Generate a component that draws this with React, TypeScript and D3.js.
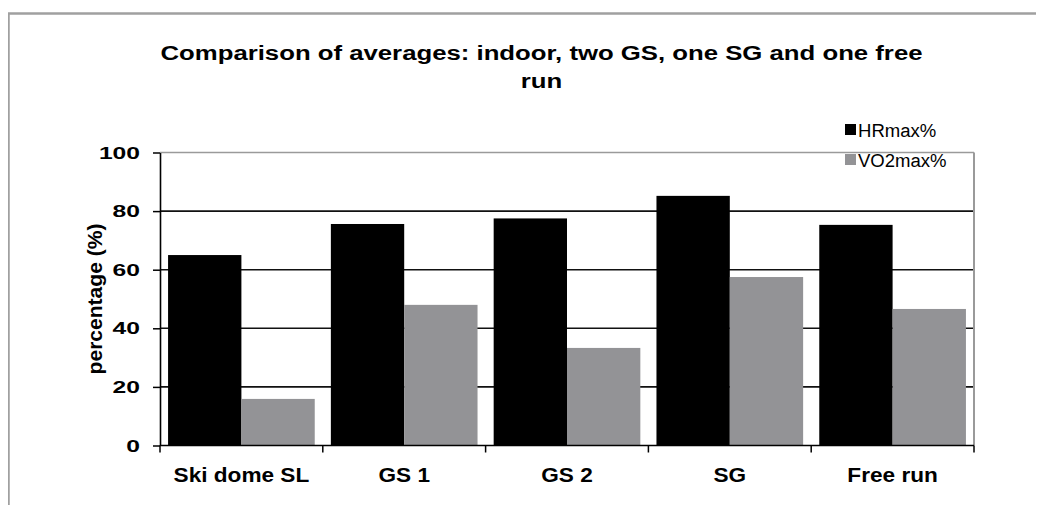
import * as d3 from 'd3'
import { useEffect, useRef } from 'react'

const categories = ['Ski dome SL', 'GS 1', 'GS 2', 'SG', 'Free run']
const seriesNames = ['HRmax%', 'VO2max%']
const hrMax = [65, 75.6, 77.5, 85.2, 75.3]
const vo2Max = [15.9, 48, 33.3, 57.5, 46.6]
const yTicks = [0, 20, 40, 60, 80, 100]
const colors = ['#000000', '#939396']

const App = () => {
  const svgRef = useRef<SVGSVGElement>(null)

  useEffect(() => {
    const w = 1044
    const h = 509
    const svg = d3.select(svgRef.current).attr('width', w).attr('height', h)
    svg.selectAll('*').remove()
    const font = 'Arial, "Liberation Sans", sans-serif'

    // outer chart border
    svg.append('rect').attr('x', 8.5).attr('y', 13.5).attr('width', 1040).attr('height', 520)
      .attr('fill', 'none').attr('stroke', '#a0a0a0').attr('stroke-width', 2.5)

    const left = 160, right = 974, top = 152.5, bottom = 445.5
    const x = d3.scaleBand().domain(categories).range([left, right]).paddingInner(0).paddingOuter(0)
    const inner = d3.scaleBand().domain(seriesNames).range([0, x.bandwidth()]).paddingInner(0).paddingOuter(0.11)
    const y = d3.scaleLinear().domain([0, 100]).range([bottom, top])

    // gridlines
    svg.selectAll('.grid').data(yTicks.filter(t => t > 0)).join('line')
      .attr('x1', left).attr('x2', right).attr('y1', d => y(d)).attr('y2', d => y(d))
      .attr('stroke', d => d === 100 ? '#9a9a9a' : '#111').attr('stroke-width', 1.6)

    // right border of plot
    svg.append('line').attr('x1', right).attr('x2', right).attr('y1', top).attr('y2', bottom)
      .attr('stroke', '#9a9a9a').attr('stroke-width', 2)

    const rows = categories.map((c, i) => ({ c, vals: [hrMax[i], vo2Max[i]] }))
    const g = svg.selectAll('.cat').data(rows).join('g').attr('transform', d => `translate(${x(d.c)},0)`)
    g.selectAll('rect').data(d => d.vals.map((v, k) => ({ v, s: seriesNames[k], k }))).join('rect')
      .attr('x', d => inner(d.s)!).attr('width', inner.bandwidth())
      .attr('y', d => y(d.v)).attr('height', d => y(0) - y(d.v))
      .attr('fill', d => colors[d.k])

    // y axis
    const yAxis = svg.append('g').attr('transform', `translate(${left},0)`)
      .call(d3.axisLeft(y).tickValues(yTicks).tickSize(7).tickSizeOuter(0).tickFormat(() => ''))
    yAxis.select('.domain').attr('stroke', '#000').attr('stroke-width', 1.6)
    yAxis.selectAll('.tick line').attr('stroke', '#000').attr('stroke-width', 1.5)
    svg.selectAll('.ylab').data(yTicks).join('text')
      .attr('transform', d => `translate(140,${y(d)}) scale(1.45,1)`)
      .attr('text-anchor', 'end').attr('dy', '0.36em')
      .attr('font-family', font).attr('font-size', 17).attr('font-weight', 'bold')
      .text(d => d)

    // x axis
    svg.append('line').attr('x1', left).attr('x2', right).attr('y1', bottom).attr('y2', bottom)
      .attr('stroke', '#000').attr('stroke-width', 1.6)
    const bounds = categories.map(c => x(c)!).concat([right])
    svg.selectAll('.xtick').data(bounds).join('line')
      .attr('x1', d => d).attr('x2', d => d).attr('y1', bottom).attr('y2', bottom + 7)
      .attr('stroke', '#000').attr('stroke-width', 1.5)
    svg.selectAll('.xlab').data(categories).join('text')
      .attr('transform', d => `translate(${x(d)! + x.bandwidth() / 2},482) scale(1.16,1)`)
      .attr('text-anchor', 'middle').attr('font-family', font).attr('font-size', 19.5).attr('font-weight', 'bold')
      .text(d => d)

    // y title
    svg.append('text').attr('transform', `translate(102,${(top + bottom) / 2}) rotate(-90) scale(1.08,1)`)
      .attr('text-anchor', 'middle').attr('font-family', font).attr('font-size', 19.5).attr('font-weight', 'bold')
      .text('percentage (%)')

    // title
    const titleLines = ['Comparison of averages: indoor, two GS, one SG and one free', 'run']
    svg.selectAll('.title').data(titleLines).join('text')
      .attr('transform', (d, i) => `translate(541.5,${60 + i * 28}) scale(1.3,1)`)
      .attr('text-anchor', 'middle').attr('font-family', font)
      .attr('font-size', 19.8).attr('font-weight', 'bold')
      .text(d => d)

    // legend
    const lg = svg.selectAll('.leg').data(seriesNames).join('g')
      .attr('transform', (d, i) => `translate(845,${130 + i * 30})`)
    lg.append('rect').attr('x', 0).attr('y', -6).attr('width', 11).attr('height', 11).attr('fill', (d, i) => colors[i])
    lg.append('text').attr('transform', 'translate(13,6.5) scale(1.03,1)').attr('font-family', font).attr('font-size', 18)
      .text(d => d)
  }, [])

  return (
    <div style={{ margin: -8 }}>
      <svg ref={svgRef}></svg>
    </div>
  )
}

export default App
